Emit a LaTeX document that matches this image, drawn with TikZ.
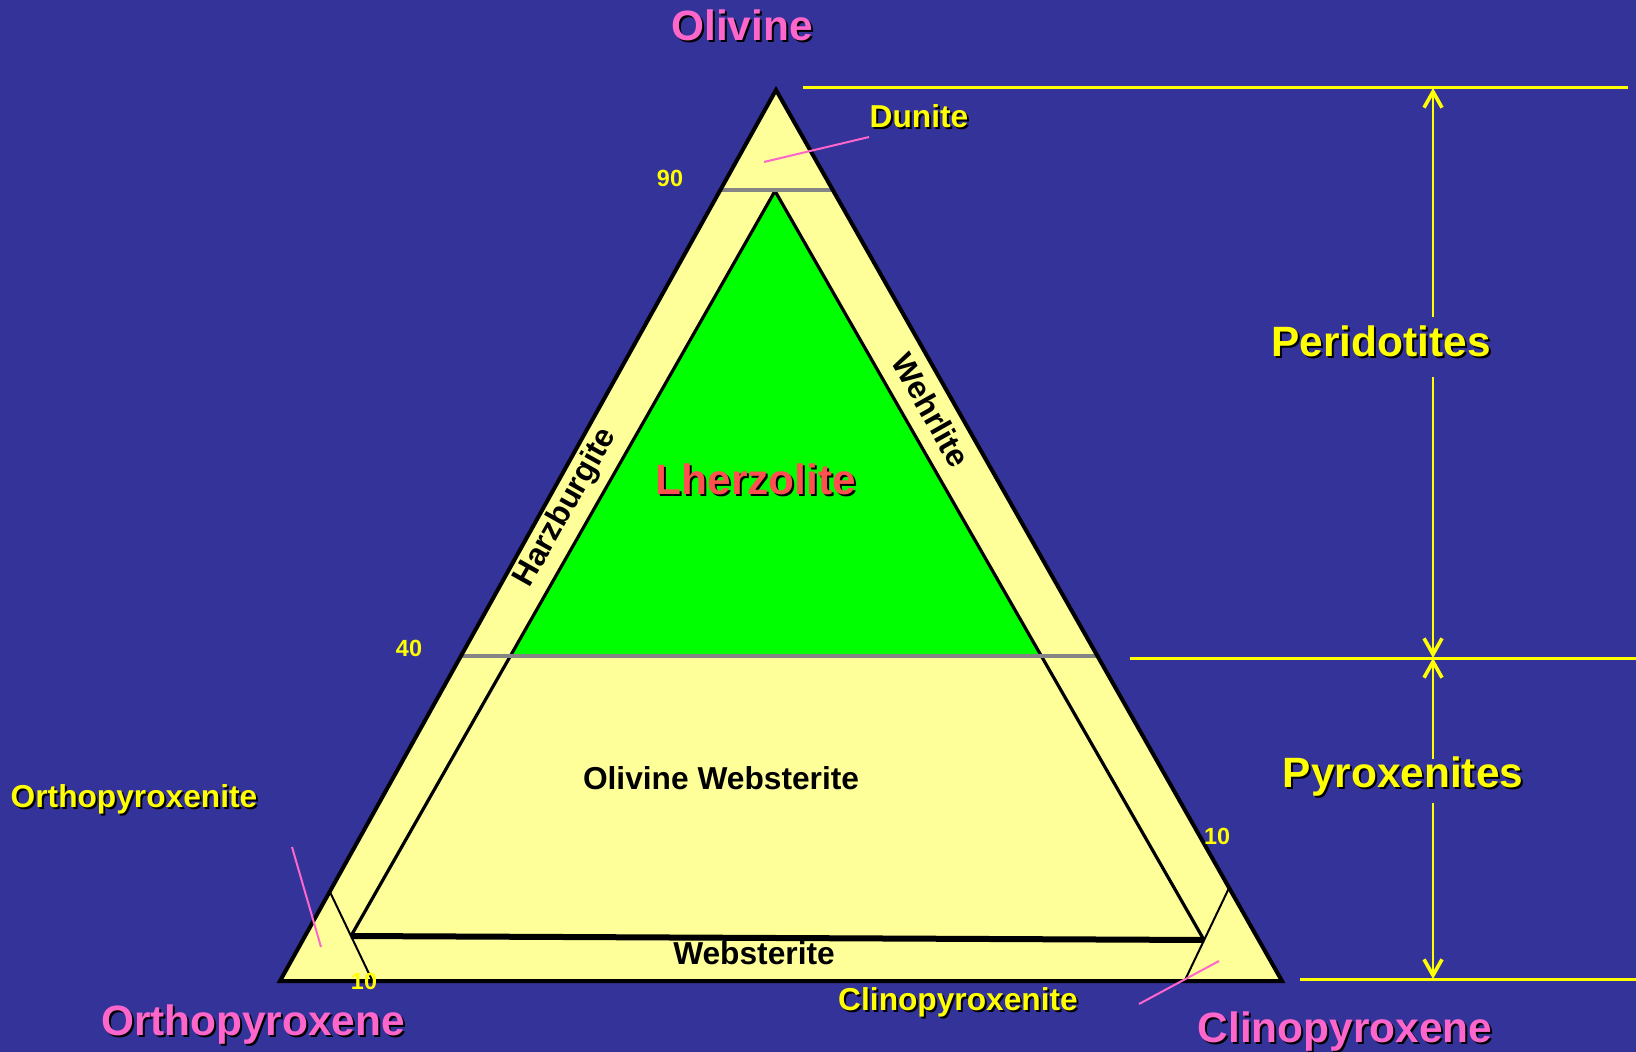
\documentclass[tikz,border=0pt]{standalone}
\usepackage{fontspec}
\setmainfont{Liberation Sans}
\usetikzlibrary{arrows.meta,calc}
\definecolor{bgblue}{HTML}{333399}
\definecolor{paleyel}{HTML}{FFFF99}
\definecolor{limeg}{HTML}{00FF00}
\definecolor{pinkc}{HTML}{FF66CC}
\definecolor{yelc}{HTML}{FFFF00}
\definecolor{lherz}{HTML}{FF5050}
\definecolor{grayc}{HTML}{858585}
\newcommand\shtxt[1]{\rlap{\kern1pt\raisebox{-1pt}{\color{black}#1}}#1}
\begin{document}
\begin{tikzpicture}[x=0.5pt,y=-0.5pt,
  big/.style={font=\fontsize{21.2}{24}\selectfont\bfseries, inner sep=0pt, anchor=base},
  med/.style={font=\fontsize{15.85}{18}\selectfont\bfseries, inner sep=0pt, anchor=base},
  num/.style={font=\fontsize{11.7}{13}\selectfont\bfseries, inner sep=0pt, anchor=base, text=yelc},
  innerline/.style={line width=1.6pt, black},
  thinline/.style={line width=1pt, black},
  grayline/.style={line width=1.8pt, grayc},
  yline/.style={line width=1.5pt, yelc},
  varrow/.style={line width=1.1pt, yelc, -{Straight Barb[length=8pt,width=9pt,line width=1.8pt]}},
  leader/.style={line width=1pt, pinkc}]
\useasboundingbox (0,0) rectangle (1636,1052);
\fill[bgblue] (0,0) rectangle (1636,1052);
% main triangle
\coordinate (A) at (776,90);
\coordinate (B) at (280,981);
\coordinate (C) at (1282,981);
\fill[paleyel] (A)--(B)--(C)--cycle;
% lherzolite field
\coordinate (G) at (775,191);
\coordinate (WL) at (351,936);
\coordinate (WR) at (1204,940);
\coordinate (GL) at ($(G)!0.624!(WL)$);
\coordinate (GR) at ($(G)!0.621!(WR)$);
\fill[limeg] (G)--(GL)--(GR)--cycle;
\draw[innerline] (G)--(WL);
\draw[innerline] (G)--(WR);
% corner lines
\coordinate (cl1) at (330,892);
\coordinate (cl2) at (372,980);
\coordinate (cr1) at (1229,888);
\coordinate (cr2) at (1185,980);
\draw[thinline] (cl1)--(cl2);
\draw[thinline] (cr1)--(cr2);
% websterite line
\draw[line width=3pt] (WL)--(WR);
% 90 and 40 lines
\coordinate (n90l) at (720,190);
\coordinate (n90r) at (833,190);
\coordinate (n40l) at (461,656);
\coordinate (n40r) at (1097,656);
\draw[grayline] (n90l)--(n90r);
\draw[grayline] (n40l)--(n40r);
% outer border
\draw[line width=2pt, line join=miter] (A)--(B)--(C)--cycle;
% right side scale
\coordinate (t1) at (803,88);
\coordinate (t2) at (1628,88);
\coordinate (m1) at (1130,658);
\coordinate (m2) at (1636,658);
\coordinate (b1) at (1300,979);
\coordinate (b2) at (1636,979);
\draw[yline] (t1)--(t2);
\draw[yline] (m1)--(m2);
\draw[yline] (b1)--(b2);
\coordinate (vtop) at (1433,88);
\coordinate (vmid) at (1433,658);
\coordinate (vbot) at (1433,979);
\coordinate (p1) at (1433,317);
\coordinate (p2) at (1433,377);
\coordinate (q1) at (1433,759);
\coordinate (q2) at (1433,803);
\draw[varrow] (p1)--(vtop);
\draw[varrow] (p2)--(vmid);
\draw[varrow] (q1)--(vmid);
\draw[varrow] (q2)--(vbot);
% labels
\node[big, text=pinkc] (olv) at (742,41) {\shtxt{Olivine}};
\node[big, text=pinkc] (opx) at (253,1035) {\shtxt{Orthopyroxene}};
\node[big, text=pinkc] (cpx) at (1345,1042) {\shtxt{Clinopyroxene}};
\node[big, text=yelc] (peri) at (1381,357) {\shtxt{Peridotites}};
\node[big, text=yelc] (pyro) at (1403,787) {\shtxt{Pyroxenites}};
\node[big, text=lherz] (lhz) at (756,495) {\shtxt{Lherzolite}};
\node[med, text=yelc] (dun) at (919,127.5) {\shtxt{Dunite}};
\node[med, text=yelc] (opxt) at (134,807) {\shtxt{Orthopyroxenite}};
\node[med, text=yelc] (cpxt) at (958,1010) {\shtxt{Clinopyroxenite}};
\node[med, text=black] (owb) at (721,789) {Olivine Websterite};
\node[med, text=black] (wbs) at (754,964) {Websterite};
\node[med, text=black, anchor=center, rotate=60.6] (hzb) at (566,508) {Harzburgite};
\node[med, text=black, anchor=center, rotate=-60.6] (wehr) at (931,410) {Wehrlite};
\node[num] (l90) at (670,187) {90};
\node[num] (l40) at (409,656) {40};
\node[num] (l10a) at (364,989) {10};
\node[num] (l10b) at (1217,844) {10};
% leader lines
\coordinate (d1) at (764,162);
\coordinate (d2) at (869,137);
\coordinate (o1) at (292,847);
\coordinate (o2) at (321,947);
\coordinate (c1) at (1139,1004);
\coordinate (c2) at (1219,961);
\draw[leader] (d1)--(d2);
\draw[leader] (o1)--(o2);
\draw[leader] (c1)--(c2);
\end{tikzpicture}
\end{document}
